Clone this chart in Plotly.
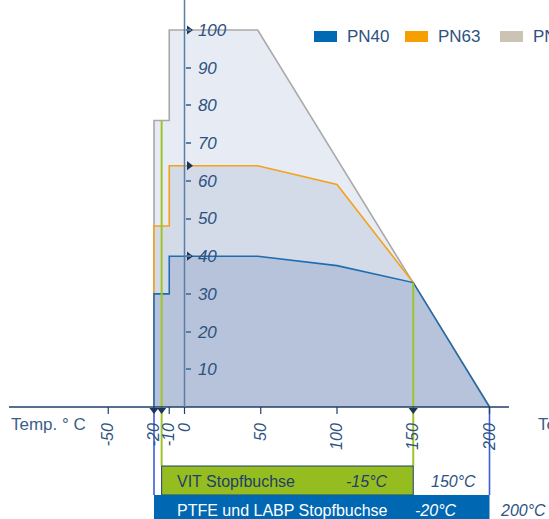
import numpy as np
import plotly.graph_objects as go

W, H = 549, 519

# Permitted pressure (bar) over temperature (°C) for each pressure class
temp_pn100 = [-20, -20, -10, -10, 48, 150, 200]
bar_pn100 = [0, 76, 76, 100, 100, 33, 0]
temp_pn63 = [-20, -20, -10, -10, 48, 100, 150, 200]
bar_pn63 = [0, 48, 48, 64, 64, 59, 33, 0]
temp_pn40 = [-20, -20, -10, -10, 48, 100, 150, 200]
bar_pn40 = [0, 30, 30, 40, 40, 37.5, 33, 0]

# Gland packings and their temperature limits
gland_names = ["VIT Stopfbuchse", "PTFE und LABP Stopfbuchse"]
gland_min = [-15, -20]
gland_max = [150, 200]

# Axis ticks and markers
temp_ticks = [-50, -20, -10, 0, 50, 100, 150, 200]
temp_tick_marks = [-50, -10, 0, 50, 100, 200]
temp_arrows = [-20, -15, 150]
pressure_ticks = [10, 20, 30, 40, 50, 60, 70, 80, 90, 100]
pressure_arrows = [100, 64, 40]

legend_names = ["PN40", "PN63", "PN100"]

# ---- styling -------------------------------------------------------------
FONT = "Liberation Sans, Arial, sans-serif"
TXT = "#2d5280"
NAVY = "#1e3f6a"
AXIS_BLUE = "#5a7fa5"

series = [
    # x, y, line colour, fill colour (drawn back to front)
    (temp_pn100, bar_pn100, "#a9a9a9", "#e7ecf4"),
    (temp_pn63, bar_pn63, "#f4a21c", "#d3dae8"),
    (temp_pn40, bar_pn40, "#1f6cb0", "#b6c3da"),
]
legend_colors = ["#0069b4", "#f5a000", "#cbc3b3"]
gland_fill = ["#96bd1f", "#0068b3"]
gland_line = ["#a0c428", "#3a5ed6"]
gland_text = [NAVY, "white"]

# pixel scale of the two axes
X0_PX, X_SCALE = 184.5, 1.525   # px of 0 °C, px per °C
Y0_PX, Y_SCALE = 407.0, 3.77    # px of 0 bar, px per bar
x_range = [-X0_PX / X_SCALE, (W - X0_PX) / X_SCALE]
y_range = [-(H - Y0_PX) / Y_SCALE, Y0_PX / Y_SCALE]


def paper_x(px):
    return px / W


def paper_y(py):
    return 1 - py / H


def data_y(py):
    return (Y0_PX - py) / Y_SCALE


fig = go.Figure()

for xs, ys, lc, fc in series:
    fig.add_trace(go.Scatter(
        x=xs, y=ys, mode="lines", fill="toself", fillcolor=fc,
        line=dict(color=lc, width=1.6), hoverinfo="skip", showlegend=False,
    ))

# vertical limit lines of the gland packings
bar_tops = [466, 495]
bar_bottoms = [495, 530]
for i in range(len(gland_names)):
    for t in (gland_min[i], gland_max[i]):
        top = float(np.interp(t, temp_pn100, bar_pn100)) if i == 0 else 0
        fig.add_trace(go.Scatter(
            x=[t, t], y=[top, data_y(bar_tops[i])], mode="lines",
            line=dict(color=gland_line[i], width=2 if i == 0 else 1.6),
            hoverinfo="skip", showlegend=False,
        ))

# arrow heads on the axes
fig.add_trace(go.Scatter(
    x=temp_arrows, y=[-3.0 / Y_SCALE] * len(temp_arrows), mode="markers",
    marker=dict(symbol="triangle-down", size=8, color="#1e3559"),
    hoverinfo="skip", showlegend=False,
))
fig.add_trace(go.Scatter(
    x=[4.5 / X_SCALE] * len(pressure_arrows), y=pressure_arrows, mode="markers",
    marker=dict(symbol="triangle-right", size=8, color="#1e3559"),
    hoverinfo="skip", showlegend=False,
))

shapes = []
# temperature axis line and ticks
shapes.append(dict(type="line", xref="paper", yref="y", x0=paper_x(9), x1=paper_x(509),
                   y0=0, y1=0, line=dict(color=NAVY, width=1.5)))
for t in temp_tick_marks:
    shapes.append(dict(type="line", xref="x", yref="y", x0=t, x1=t, y0=0,
                       y1=-7 / Y_SCALE, line=dict(color=NAVY, width=1.2)))
# pressure axis line
shapes.append(dict(type="line", xref="x", yref="y", x0=0, x1=0, y0=0, y1=y_range[1],
                   line=dict(color=AXIS_BLUE, width=1.5)))

annotations = []
# gland bars
text_left = [175, 175]
min_center = [367, 436]
max_center = [453, 523]
for i, name in enumerate(gland_names):
    shapes.append(dict(
        type="rect", xref="x", yref="paper", x0=gland_min[i], x1=gland_max[i],
        y0=paper_y(bar_bottoms[i]), y1=paper_y(bar_tops[i]), fillcolor=gland_fill[i],
        line=dict(color=NAVY, width=1 if i == 0 else 0), layer="above",
    ))
    yc = paper_y((bar_tops[i] + min(bar_bottoms[i], H + 4)) / 2 + 1)
    annotations.append(dict(x=paper_x(text_left[i]), y=yc, xref="paper", yref="paper",
                            text=name, showarrow=False, xanchor="left", yanchor="middle",
                            font=dict(family=FONT, size=16, color=gland_text[i])))
    annotations.append(dict(x=paper_x(min_center[i]), y=yc, xref="paper", yref="paper",
                            text=f"{gland_min[i]}°C", showarrow=False, xanchor="center",
                            yanchor="middle",
                            font=dict(family=FONT, size=16, color=gland_text[i], style="italic")))
    annotations.append(dict(x=paper_x(max_center[i]), y=yc, xref="paper", yref="paper",
                            text=f"{gland_max[i]}°C", showarrow=False, xanchor="center",
                            yanchor="middle",
                            font=dict(family=FONT, size=16, color=TXT, style="italic")))

# axis titles
for px in (9, 536):
    annotations.append(dict(x=paper_x(px), y=paper_y(424), xref="paper", yref="paper",
                            text="Temp. ° C", showarrow=False, xanchor="left",
                            yanchor="middle",
                            font=dict(family=FONT, size=17, color="#3b5f88")))

# legend
legend_swatch_x = [314, 405, 500]
for name, col, sx in zip(legend_names, legend_colors, legend_swatch_x):
    shapes.append(dict(type="rect", xref="paper", yref="paper", x0=paper_x(sx),
                       x1=paper_x(sx + 23), y0=paper_y(42), y1=paper_y(31),
                       fillcolor=col, line=dict(width=0)))
    annotations.append(dict(x=paper_x(sx + 31), y=paper_y(37), xref="paper", yref="paper",
                            text=name, showarrow=False, xanchor="left", yanchor="middle",
                            font=dict(family=FONT, size=17, color=TXT)))

fig.update_layout(
    width=W, height=H,
    margin=dict(l=0, r=0, t=0, b=0, autoexpand=False),
    paper_bgcolor="white", plot_bgcolor="white",
    showlegend=False,
    shapes=shapes, annotations=annotations,
    xaxis=dict(
        range=x_range, showgrid=False, zeroline=False, showline=False,
        anchor="free", position=(0 - y_range[0]) / (y_range[1] - y_range[0]),
        tickmode="array", tickvals=temp_ticks, ticktext=[str(t) for t in temp_ticks],
        ticks="", tickangle=-90, ticklabelstandoff=12,
        tickfont=dict(family=FONT, size=16, color=TXT, style="italic"),
    ),
    yaxis=dict(
        range=y_range, showgrid=False, zeroline=False, showline=False,
        anchor="free", side="right",
        position=(0 - x_range[0]) / (x_range[1] - x_range[0]),
        tickmode="array", tickvals=pressure_ticks,
        ticks="outside", ticklen=5, tickwidth=1.5, tickcolor=AXIS_BLUE,
        ticklabelstandoff=4,
        tickfont=dict(family=FONT, size=17, color=TXT, style="italic"),
    ),
)

fig.write_html("out.html")
